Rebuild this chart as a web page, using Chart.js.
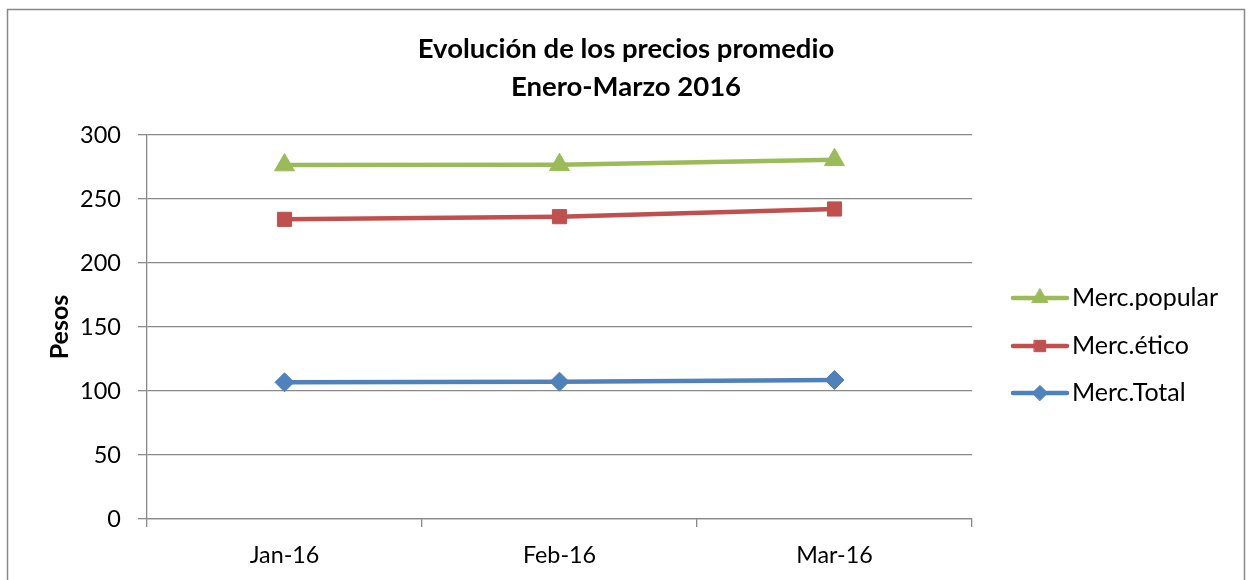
<!DOCTYPE html>
<html>
<head>
<meta charset="utf-8">
<script src="https://cdn.jsdelivr.net/npm/chart.js@4"></script>
<style>
  html, body { margin: 0; padding: 0; background: #fff; }
  #wrap { width: 1251px; height: 580px; position: relative; }
</style>
</head>
<body>
<div id="wrap"><canvas id="c" width="1251" height="580"></canvas></div>
<script>
// ---- data ----
const categories = ['Jan-16', 'Feb-16', 'Mar-16'];
const mercPopular = [276.5, 276.7, 280.6];
const mercEtico = [234.1, 236.2, 242.2];
const mercTotal = [106.8, 107.3, 108.6];
const seriesNames = ['Merc.popular', 'Merc.ético', 'Merc.Total'];
const yTicks = [0, 50, 100, 150, 200, 250, 300];
const titleLines = ['Evolución de los precios promedio', 'Enero-Marzo 2016'];
const yAxisTitle = 'Pesos';

const FONT = 'Lato, "Open Sans", sans-serif';

const titlePlugin = {
  id: 'excelTitle',
  afterDraw(chart) {
    const ctx = chart.ctx;
    ctx.save();
    ctx.fillStyle = '#000';
    ctx.font = 'bold 27.5px ' + FONT;
    ctx.textAlign = 'center';
    ctx.textBaseline = 'middle';
    const ys = [49, 87];
    titleLines.forEach((t, i) => ctx.fillText(t, 626, ys[i]));
    ctx.restore();
  }
};

const legendPlugin = {
  id: 'excelLegend',
  afterDraw(chart) {
    const ctx = chart.ctx;
    const ys = [298, 346, 393];
    ctx.save();
    chart.data.datasets.forEach((ds, i) => {
      const y = ys[i];
      ctx.strokeStyle = ds.borderColor;
      ctx.lineWidth = ds.borderWidth;
      ctx.lineCap = 'round';
      ctx.beginPath();
      ctx.moveTo(1013, y);
      ctx.lineTo(1067, y);
      ctx.stroke();
      ctx.fillStyle = ds.backgroundColor;
      ctx.strokeStyle = ds.borderColor;
      ctx.lineWidth = 1;
      Chart.helpers.drawPoint(ctx, { pointStyle: ds.pointStyle, rotation: 0, radius: ds.pointRadius * 0.8, borderWidth: 1 }, 1040, y);
      ctx.fillStyle = '#000';
      ctx.font = '25px ' + FONT;
      ctx.textAlign = 'left';
      ctx.textBaseline = 'middle';
      ctx.fillText(ds.label, 1072, y);
    });
    ctx.restore();
  }
};

const borderPlugin = {
  id: 'frame',
  afterDraw(chart) {
    const ctx = chart.ctx;
    ctx.save();
    ctx.strokeStyle = '#898989';
    ctx.lineWidth = 1.5;
    ctx.strokeRect(7.5, 9.5, 1237, 620);
    ctx.restore();
  }
};

const colors = ['#9BBB59', '#C0504D', '#4F81BD'];
const styles = ['triangle', 'rect', 'rectRot'];
const radii = [11.5, 10, 9.5];
const values = [mercPopular, mercEtico, mercTotal];

new Chart(document.getElementById('c'), {
  type: 'line',
  data: {
    labels: categories,
    datasets: seriesNames.map((name, i) => ({
      label: name,
      data: values[i],
      borderColor: colors[i],
      backgroundColor: colors[i],
      borderWidth: 4.5,
      pointStyle: styles[i],
      pointRadius: radii[i],
      pointHoverRadius: radii[i],
      pointBorderWidth: 1,
      tension: 0,
      fill: false
    }))
  },
  options: {
    responsive: false,
    animation: false,
    events: [],
    layout: { padding: { top: 135, left: 0, right: 279, bottom: 0 } },
    plugins: {
      legend: { display: false },
      tooltip: { enabled: false },
      title: { display: false }
    },
    scales: {
      x: {
        type: 'category',
        offset: true,
        grid: { display: true, drawOnChartArea: false, drawTicks: true, tickLength: 8, color: '#898989', lineWidth: 1.3, offset: true },
        border: { display: true, color: '#898989', width: 1.3 },
        ticks: { color: '#000', font: { family: FONT, size: 23.3 }, padding: 14, maxRotation: 0 },
        afterFit(s) { s.height = 61; }
      },
      y: {
        min: 0, max: 300,
        afterBuildTicks(s) { s.ticks = yTicks.map(v => ({ value: v })); },
        grid: { color: '#898989', lineWidth: 1.3, drawTicks: true, tickLength: 9 },
        border: { display: true, color: '#898989', width: 1.3 },
        ticks: { color: '#000', font: { family: FONT, size: 23.5 }, padding: 17 },
        title: { display: true, text: yAxisTitle, color: '#000', font: { family: FONT, size: 25, weight: 'bold' }, padding: { top: 45, bottom: 0 } },
        afterFit(s) { s.width = 147; }
      }
    }
  },
  plugins: [titlePlugin, legendPlugin, borderPlugin]
});
</script>
</body>
</html>
